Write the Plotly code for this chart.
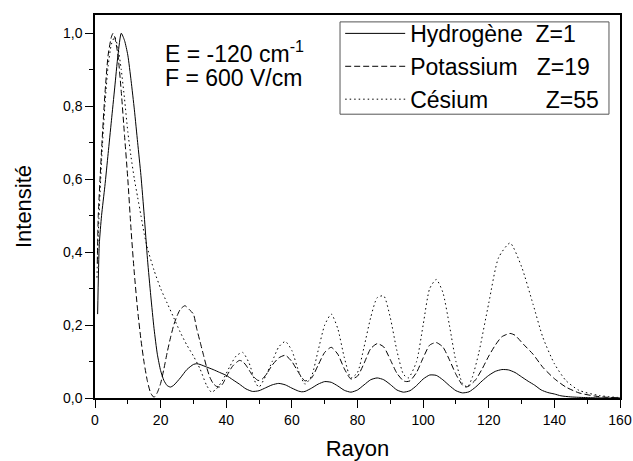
import plotly.graph_objects as go

# Hydrogene Z=1 (solid)
h_x = [0.8, 1.3, 2, 3, 4, 5, 6, 7, 8, 9, 10, 11, 12, 13, 14, 15, 16, 17, 18, 19,
       20, 21, 22, 23, 24, 26, 28, 30, 31, 32, 34, 36, 38, 40, 42, 44, 46, 48, 50,
       52, 54, 56, 58, 60, 62, 63, 64, 66, 68, 70, 72, 74, 76, 78, 80, 82, 84, 86,
       88, 90, 92, 94, 96, 98, 100, 102, 104, 106, 108, 110, 112, 114, 116, 118,
       120, 122, 124, 126, 128, 130, 132, 134, 136, 138, 140, 142, 145, 150, 155, 160]
h_y = [0.23, 0.42, 0.5, 0.58, 0.67, 0.76, 0.85, 0.94, 1.0, 0.98, 0.94, 0.87, 0.79,
       0.7, 0.61, 0.5, 0.38, 0.28, 0.19, 0.12, 0.075, 0.048, 0.034, 0.03, 0.035,
       0.055, 0.078, 0.092, 0.094, 0.092, 0.085, 0.078, 0.07, 0.062, 0.05, 0.038,
       0.025, 0.018, 0.02, 0.028, 0.036, 0.04, 0.036, 0.027, 0.019, 0.017, 0.018,
       0.027, 0.038, 0.045, 0.043, 0.033, 0.021, 0.016, 0.022, 0.036, 0.05, 0.055,
       0.05, 0.037, 0.022, 0.016, 0.02, 0.034, 0.052, 0.063, 0.062, 0.05, 0.034,
       0.02, 0.014, 0.017, 0.03, 0.047, 0.062, 0.073, 0.078, 0.077, 0.07, 0.058,
       0.046, 0.035, 0.022, 0.015, 0.011, 0.006, 0.003, 0.001, 0.0, 0.0]

# Potassium Z=19 (dashed)
k_x = [0.7, 1, 2, 3, 4, 5, 5.5, 6, 7, 8, 9, 10, 11, 12, 13, 14, 15, 16, 17, 18,
       19, 20, 21, 22, 23, 24, 25, 26, 27.4, 29, 30, 31, 32, 33, 34, 35, 36, 37, 38,
       39, 40, 42, 44, 45, 46, 47, 48, 49.7, 51, 52.3, 54, 56, 58, 60, 62, 64, 66,
       68, 70, 72, 74, 76, 78, 80, 82, 84, 86, 88, 90, 92, 94, 95, 96, 98, 100, 102,
       104, 106, 108, 110, 112, 113, 114, 116, 118, 120, 122, 124, 126.5, 128, 130.5,
       133.5, 136.5, 140, 143.5, 147.5, 152.5, 156, 160]
k_y = [0.37, 0.5, 0.68, 0.83, 0.94, 0.99, 1.0, 0.99, 0.94, 0.84, 0.72, 0.6, 0.46,
       0.34, 0.24, 0.16, 0.095, 0.045, 0.013, 0.002, 0.015, 0.04, 0.08, 0.125, 0.165,
       0.2, 0.225, 0.243, 0.253, 0.24, 0.23, 0.19, 0.155, 0.12, 0.085, 0.057, 0.04,
       0.032, 0.03, 0.04, 0.058, 0.088, 0.103, 0.1, 0.09, 0.076, 0.062, 0.048, 0.052,
       0.066, 0.09, 0.11, 0.117, 0.1, 0.07, 0.047, 0.055, 0.09, 0.125, 0.139, 0.12,
       0.08, 0.052, 0.06, 0.095, 0.135, 0.149, 0.14, 0.105, 0.068, 0.047, 0.045,
       0.047, 0.07, 0.11, 0.145, 0.152, 0.14, 0.105, 0.065, 0.035, 0.03, 0.033,
       0.05, 0.08, 0.115, 0.145, 0.168, 0.177, 0.172, 0.148, 0.12, 0.084, 0.053,
       0.03, 0.014, 0.005, 0.002, 0.0]

# Cesium Z=55 (dotted)
c_x = [0.6, 1, 2, 3, 4, 5, 6, 7, 8, 9, 10, 11, 12, 13, 14, 15, 16, 18, 20, 22,
       24, 26, 28, 30, 32, 34, 35.5, 37, 39, 41, 43, 45, 47, 49, 50, 52, 54, 56, 58,
       60, 62, 64, 66, 68, 70, 72, 74, 76, 78, 80, 82, 84, 86, 88, 90, 92, 94, 95.5,
       98, 100, 102, 104, 106, 108, 110, 112, 113.5, 115, 117, 120, 123, 126.5, 130,
       133.5, 136.5, 140, 143.5, 147.5, 153.5, 160]
c_y = [0.33, 0.45, 0.65, 0.8, 0.91, 0.97, 0.99, 0.96, 0.9, 0.82, 0.73, 0.66, 0.6,
       0.55, 0.5, 0.45, 0.41, 0.35, 0.3, 0.26, 0.22, 0.18, 0.145, 0.115, 0.08, 0.035,
       0.016, 0.025, 0.05, 0.085, 0.115, 0.125, 0.095, 0.04, 0.03, 0.06, 0.1, 0.14,
       0.155, 0.13, 0.075, 0.038, 0.06, 0.13, 0.2, 0.23, 0.19, 0.11, 0.055, 0.07,
       0.14, 0.22, 0.275, 0.28, 0.22, 0.13, 0.065, 0.055, 0.1, 0.2, 0.3, 0.325, 0.29,
       0.2, 0.1, 0.04, 0.03, 0.057, 0.125, 0.26, 0.385, 0.425, 0.36, 0.257, 0.166,
       0.094, 0.048, 0.021, 0.007, 0.001]

NB = "\u00a0"
names = ["Hydrogène" + NB * 2 + "Z=1",
         "Potassium" + NB * 3 + "Z=19",
         "Césium" + NB * 9 + "Z=55"]

FONT = "Liberation Sans, Arial, sans-serif"

fig = go.Figure()
for xs, ys, name, dash in [(h_x, h_y, names[0], "solid"),
                           (k_x, k_y, names[1], "6px,3px"),
                           (c_x, c_y, names[2], "1.5px,3px")]:
    fig.add_trace(go.Scatter(
        x=xs, y=ys, mode="lines", name=name,
        line=dict(color="black", width=1, dash=dash, shape="spline", smoothing=0.6),
    ))

axis_common = dict(
    showline=True, linecolor="black", linewidth=1.5, mirror=True,
    ticks="outside", ticklen=8, tickwidth=1, tickcolor="black",
    showgrid=False, zeroline=False, automargin=False,
    tickfont=dict(family=FONT, size=14, color="black"),
)

fig.update_xaxes(
    range=[0, 160], dtick=20, tick0=0,
    minor=dict(ticks="outside", ticklen=4, dtick=10, tickcolor="black"),
    title=dict(text="Rayon", font=dict(family=FONT, size=22, color="black"), standoff=18),
    **axis_common,
)
fig.update_yaxes(
    range=[0, 1.05], dtick=0.2, tick0=0, tickformat=".1f",
    minor=dict(ticks="outside", ticklen=4, dtick=0.1, tickcolor="black"),
    title=dict(text="Intensité", font=dict(family=FONT, size=22, color="black"), standoff=25),
    **axis_common,
)

fig.add_annotation(x=0.13, y=0.903, xref="paper", yref="paper", xanchor="left", yanchor="middle",
                   text="E = -120 cm<sup>-1</sup>", showarrow=False,
                   font=dict(family=FONT, size=23, color="black"))
fig.add_annotation(x=0.13, y=0.835, xref="paper", yref="paper", xanchor="left", yanchor="middle",
                   text="F = 600 V/cm", showarrow=False,
                   font=dict(family=FONT, size=23, color="black"))

# legend frame
fig.add_shape(type="rect", xref="paper", yref="paper",
              x0=0.4667, x1=0.979, y0=0.741, y1=0.982,
              line=dict(color="#555555", width=1), fillcolor="rgba(0,0,0,0)")

fig.update_layout(
    width=633, height=461,
    margin=dict(l=95, r=13, t=12, b=63),
    paper_bgcolor="white", plot_bgcolor="white",
    separators=", ",
    showlegend=True,
    legend=dict(x=0.467, y=1.008, xanchor="left", yanchor="top",
                borderwidth=0, bgcolor="rgba(0,0,0,0)",
                font=dict(family=FONT, size=23, color="black"),
                tracegroupgap=0, itemwidth=60),
)

# page default body margin shifts the figure by 8px
fig.write_html("out.html", config={"displayModeBar": False},
               post_script="document.body.style.margin='0';")
